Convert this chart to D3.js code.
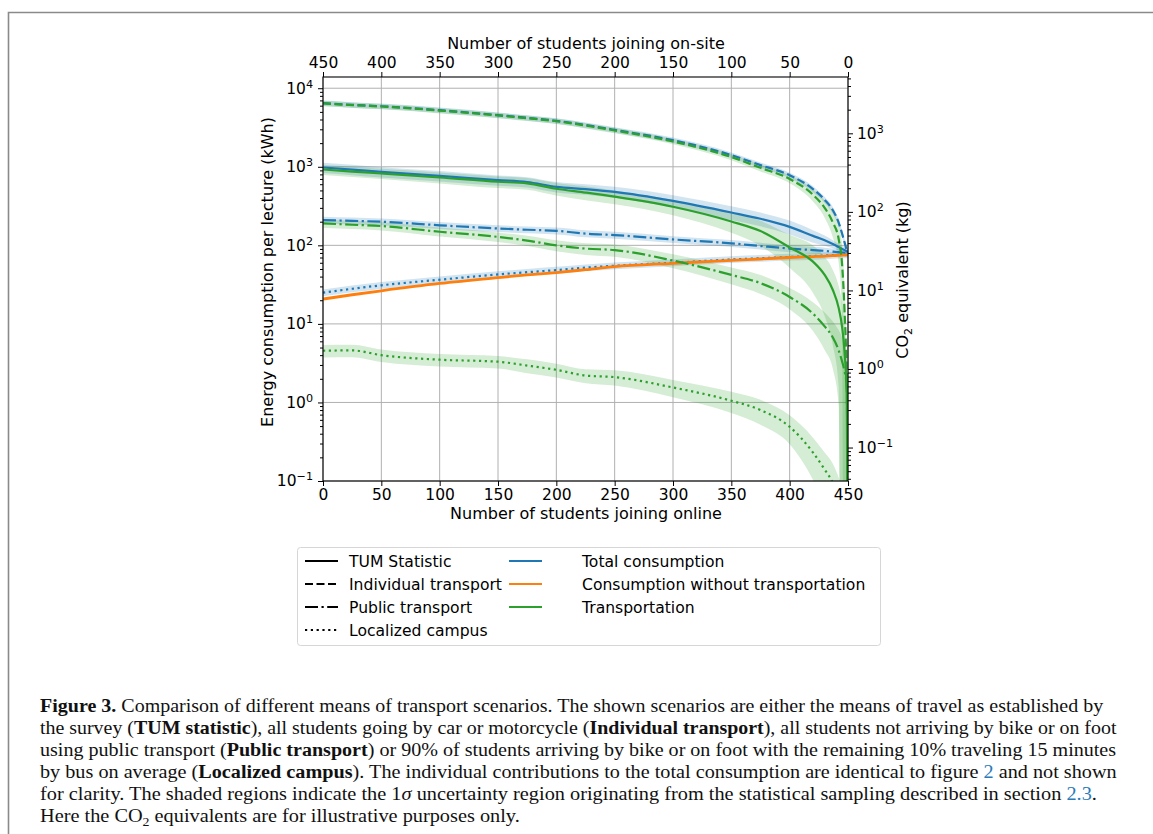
<!DOCTYPE html>
<html>
<head>
<meta charset="utf-8">
<script src="https://cdn.jsdelivr.net/npm/d3@7"></script>
<style>
  body { margin: 0; background: #fff; }
  svg { display: block; font-family: 'DejaVu Sans', sans-serif; }
  .caption { font-family: 'Liberation Serif', serif; white-space: pre; }
</style>
</head>
<body>
<svg id="chart" width="1153" height="834"></svg>
<script>
// students joining online (bottom axis), on-site = 450 - online
const onlineStudents = [0, 25, 50, 100, 150, 175, 200, 225, 250, 300, 350, 375, 400, 420, 430, 437, 442, 445, 447, 449, 450]

// energy per lecture (kWh)
const tumTotal = [980, 920, 860, 767, 676, 640, 555, 520, 480, 368, 262, 218, 172, 132, 116, 104, 95, 90, 87, 84, 82]
const tumTransport = [925, 870, 822, 731, 645, 615, 525, 470, 417, 310, 201, 152, 94, 62, 42, 27, 16, 9, 4.5, 1.2, 0.001]
const indivTotal = [6450, 6150, 5900, 5250, 4550, 4200, 3850, 3400, 2950, 2180, 1410, 1050, 780, 520, 380, 280, 195, 140, 110, 86, 79]
const indivTransport = [6400, 6100, 5850, 5200, 4500, 4150, 3800, 3350, 2900, 2100, 1330, 970, 700, 440, 300, 195, 120, 55, 15, 1.5, 0.001]
const publicTotal = [210, 205, 200, 180, 164, 158, 153, 141, 135, 119, 106, 98, 91, 87, 85, 83, 82, 81, 80.5, 80, 80]
const publicTransport = [190, 183, 176, 149, 128, 115, 100, 91, 87, 64, 42, 33, 22, 13.5, 9.3, 6.7, 4.6, 3.3, 2.5, 1.6, 0.001]
const noTransport = [20.7, 23.5, 26.4, 32.7, 38.8, 42, 45, 49, 53.5, 59, 64.5, 67, 70, 72, 73, 74, 74.5, 75, 75, 75.5, 75.5]
const localTotal = [25, 28, 31, 36.5, 42.6, 45.5, 48.4, 52, 55, 60, 66, 68.5, 71, 73, 74, 75, 75.5, 75.5, 76, 76, 76]
const localTransport = [4.55, 4.6, 4.0, 3.5, 3.3, 2.95, 2.6, 2.2, 2.1, 1.55, 1.05, 0.8, 0.49, 0.23, 0.14, 0.095, 0.06, 0.04, 0.025, 0.01, 0.001]

// relative 1 sigma width of the shaded regions
const sigTumTotal = [0.15, 0.15, 0.15, 0.15, 0.15, 0.15, 0.15, 0.15, 0.16, 0.18, 0.2, 0.2, 0.2, 0.18, 0.15, 0.12, 0.1, 0.1, 0.1, 0.1, 0.1]
const sigTumTransport = [0.15, 0.15, 0.15, 0.16, 0.17, 0.17, 0.18, 0.2, 0.2, 0.22, 0.28, 0.35, 0.45, 0.6, 0.7, 0.8, 0.9, 1, 1, 1, 1]
const sigIndivTotal = [0.08, 0.08, 0.08, 0.08, 0.08, 0.08, 0.08, 0.08, 0.08, 0.08, 0.08, 0.08, 0.08, 0.09, 0.09, 0.1, 0.1, 0.1, 0.1, 0.1, 0.1]
const sigIndivTransport = [0.08, 0.08, 0.08, 0.08, 0.08, 0.08, 0.08, 0.08, 0.08, 0.08, 0.09, 0.1, 0.12, 0.18, 0.25, 0.35, 0.5, 0.8, 1, 1, 1]
const sigPublicTotal = [0.1, 0.1, 0.1, 0.1, 0.1, 0.1, 0.1, 0.1, 0.1, 0.1, 0.1, 0.1, 0.1, 0.1, 0.1, 0.1, 0.1, 0.1, 0.1, 0.1, 0.1]
const sigPublicTransport = [0.12, 0.12, 0.12, 0.13, 0.14, 0.15, 0.16, 0.17, 0.18, 0.2, 0.24, 0.27, 0.3, 0.4, 0.5, 0.6, 0.8, 1, 1, 1, 1]
const sigLocalTotal = [0.1, 0.1, 0.1, 0.1, 0.1, 0.1, 0.1, 0.1, 0.1, 0.1, 0.1, 0.1, 0.1, 0.1, 0.1, 0.1, 0.1, 0.1, 0.1, 0.1, 0.1]
const sigLocalTransport = [0.18, 0.18, 0.18, 0.18, 0.18, 0.2, 0.2, 0.2, 0.22, 0.25, 0.3, 0.35, 0.4, 0.55, 0.65, 0.75, 0.85, 1, 1, 1, 1]

// axis ticks
const xTicks = [0, 50, 100, 150, 200, 250, 300, 350, 400, 450]
const yTicks = [0.1, 1, 10, 100, 1000, 10000]
const co2Ticks = [0.1, 1, 10, 100, 1000]
const yLimits = [0.1, 13900]
const co2PerKWh = 0.375 // kg CO2 per kWh, from the twin axis

const legendStyles = ['TUM Statistic', 'Individual transport', 'Public transport', 'Localized campus']
const legendColors = ['Total consumption', 'Consumption without transportation', 'Transportation']

const blue = '#1f77b4', orange = '#ff7f0e', green = '#2ca02c'
const dashes = { solid: null, dashed: '8,3.5', dashdot: '13,3.5,2.2,3.5', dotted: '2.2,3.6' }

const svg = d3.select('#chart')
const plot = { left: 323, right: 848, top: 77, bottom: 481 }
const labelSize = 16

// frame line round the figure
svg.append('path')
  .attr('d', 'M8.5,834 V12.5 H1153')
  .attr('fill', 'none')
  .attr('stroke', '#8a8a8a')
  .attr('stroke-width', 1.6)

const x = d3.scaleLinear().domain([0, 450]).range([plot.left, plot.right])
const xTop = d3.scaleLinear().domain([450, 0]).range([plot.left, plot.right])
const y = d3.scaleLog().domain(yLimits).range([plot.bottom, plot.top])
const yCo2 = d3.scaleLog().domain(yLimits.map((v) => v * co2PerKWh)).range([plot.bottom, plot.top])

function minorTicks(scale) {
  const [lo, hi] = scale.domain()
  const out = []
  for (let k = -3; k <= 5; k++) {
    for (let m = 2; m <= 9; m++) {
      const v = m * Math.pow(10, k)
      if (v >= lo && v <= hi) out.push(v)
    }
  }
  return out
}

function powerLabel(sel) {
  sel.each(function (d) {
    const t = d3.select(this)
    const e = Math.round(Math.log10(d))
    t.text('10')
    t.append('tspan')
      .attr('dy', '-0.55em')
      .attr('font-size', '0.72em')
      .text(e < 0 ? '\u2212' + -e : e)
  })
}

// grid
const grid = svg.append('g').attr('stroke', '#b0b0b0').attr('stroke-width', 1)
grid.selectAll('.gx').data(xTicks).enter().append('line')
  .attr('x1', (d) => x(d)).attr('x2', (d) => x(d))
  .attr('y1', plot.top).attr('y2', plot.bottom)
grid.selectAll('.gy').data(yTicks).enter().append('line')
  .attr('x1', plot.left).attr('x2', plot.right)
  .attr('y1', (d) => y(d)).attr('y2', (d) => y(d))

svg.append('clipPath').attr('id', 'clip')
  .append('rect')
  .attr('x', plot.left).attr('y', plot.top)
  .attr('width', plot.right - plot.left).attr('height', plot.bottom - plot.top)

const series = [
  { values: tumTotal, sigma: sigTumTotal, color: blue, dash: dashes.solid },
  { values: indivTotal, sigma: sigIndivTotal, color: blue, dash: dashes.dashed },
  { values: publicTotal, sigma: sigPublicTotal, color: blue, dash: dashes.dashdot },
  { values: localTotal, sigma: sigLocalTotal, color: blue, dash: dashes.dotted },
  { values: noTransport, sigma: null, color: orange, dash: dashes.solid, width: 2.8 },
  { values: tumTransport, sigma: sigTumTransport, color: green, dash: dashes.solid },
  { values: indivTransport, sigma: sigIndivTransport, color: green, dash: dashes.dashed },
  { values: publicTransport, sigma: sigPublicTransport, color: green, dash: dashes.dashdot },
  { values: localTransport, sigma: sigLocalTransport, color: green, dash: dashes.dotted },
]

const inner = svg.append('g').attr('clip-path', 'url(#clip)')

const band = d3.area()
  .x((d) => x(d.n))
  .y0((d) => y(Math.max(d.v * (1 - d.s), 1e-6)))
  .y1((d) => y(d.v * (1 + d.s)))
  .curve(d3.curveMonotoneX)

const line = d3.line()
  .x((d) => x(d.n))
  .y((d) => y(d.v))
  .curve(d3.curveMonotoneX)

series.filter((s) => s.sigma).forEach((s) => {
  const pts = onlineStudents.map((n, i) => ({ n: n, v: s.values[i], s: s.sigma[i] }))
  inner.append('path')
    .attr('d', band(pts))
    .attr('fill', s.color)
    .attr('fill-opacity', 0.2)
})

series.forEach((s) => {
  const pts = onlineStudents.map((n, i) => ({ n: n, v: s.values[i] }))
  inner.append('path')
    .attr('d', line(pts))
    .attr('fill', 'none')
    .attr('stroke', s.color)
    .attr('stroke-width', s.width || 2.2)
    .attr('stroke-dasharray', s.dash)
})

// axes
const tickFont = (g) => g.selectAll('text').attr('font-size', 15.5).attr('fill', '#000').attr('font-family', 'DejaVu Sans')

svg.append('g')
  .attr('transform', `translate(0,${plot.bottom})`)
  .call(d3.axisBottom(x).tickValues(xTicks).tickSize(5).tickPadding(3).tickFormat(d3.format('d')))
  .call(tickFont)

svg.append('g')
  .attr('transform', `translate(0,${plot.top})`)
  .call(d3.axisTop(xTop).tickValues(xTicks).tickSize(5).tickPadding(4).tickFormat(d3.format('d')))
  .call(tickFont)

svg.append('g')
  .attr('transform', `translate(${plot.left},0)`)
  .call(d3.axisLeft(y).tickValues(minorTicks(y)).tickSize(3).tickFormat(''))
svg.append('g')
  .attr('transform', `translate(${plot.left},0)`)
  .call(d3.axisLeft(y).tickValues(yTicks).tickSize(5).tickPadding(5))
  .call(tickFont)
  .call((g) => g.selectAll('.tick text').call(powerLabel))

svg.append('g')
  .attr('transform', `translate(${plot.right},0)`)
  .call(d3.axisRight(yCo2).tickValues(minorTicks(yCo2)).tickSize(3).tickFormat(''))
svg.append('g')
  .attr('transform', `translate(${plot.right},0)`)
  .call(d3.axisRight(yCo2).tickValues(co2Ticks).tickSize(5).tickPadding(4))
  .call(tickFont)
  .call((g) => g.selectAll('.tick text').call(powerLabel))

svg.selectAll('.domain').remove()
svg.append('rect')
  .attr('x', plot.left).attr('y', plot.top)
  .attr('width', plot.right - plot.left).attr('height', plot.bottom - plot.top)
  .attr('fill', 'none').attr('stroke', '#000').attr('stroke-width', 1.1)

// axis titles
svg.append('text')
  .attr('x', 586).attr('y', 49)
  .attr('text-anchor', 'middle').attr('font-size', labelSize)
  .text('Number of students joining on-site')
svg.append('text')
  .attr('x', 586).attr('y', 519)
  .attr('text-anchor', 'middle').attr('font-size', labelSize)
  .text('Number of students joining online')
svg.append('text')
  .attr('transform', 'translate(273,272) rotate(-90)')
  .attr('text-anchor', 'middle').attr('font-size', labelSize)
  .text('Energy consumption per lecture (kWh)')
const co2Label = svg.append('text')
  .attr('transform', 'translate(908,280) rotate(-90)')
  .attr('text-anchor', 'middle').attr('font-size', labelSize)
co2Label.append('tspan').text('CO')
co2Label.append('tspan').attr('font-size', 11).attr('dy', 4).text('2')
co2Label.append('tspan').attr('dy', -4).text(' equivalent (kg)')

// legend
const legend = svg.append('g')
legend.append('rect')
  .attr('x', 297.5).attr('y', 547.5).attr('width', 583).attr('height', 98)
  .attr('rx', 3).attr('fill', '#fff').attr('stroke', '#d6d6d6')

const rowY = (i) => 561 + i * 23
const styleDashes = [dashes.solid, dashes.dashed, dashes.dashdot, dashes.dotted]
legendStyles.forEach((label, i) => {
  legend.append('line')
    .attr('x1', 305).attr('x2', 338).attr('y1', rowY(i)).attr('y2', rowY(i))
    .attr('stroke', '#000').attr('stroke-width', 2.2)
    .attr('stroke-dasharray', styleDashes[i])
  legend.append('text')
    .attr('x', 349).attr('y', rowY(i) + 5.5).attr('font-size', 15.6)
    .text(label)
})
const colorList = [blue, orange, green]
legendColors.forEach((label, i) => {
  legend.append('line')
    .attr('x1', 509).attr('x2', 542).attr('y1', rowY(i)).attr('y2', rowY(i))
    .attr('stroke', colorList[i]).attr('stroke-width', 2.2)
  legend.append('text')
    .attr('x', 582).attr('y', rowY(i) + 5.5).attr('font-size', 15.6)
    .text(label)
})

// caption, each line squeezed to the width it has in the page
const link = '#2a7ab8'
const captionLines = [
  { w: 1064, parts: [['Figure 3.', 'b'], [' Comparison of different means of transport scenarios. The shown scenarios are either the means of travel as established by']] },
  { w: 1077, parts: [['the survey ('], ['TUM statistic', 'b'], ['), all students going by car or motorcycle ('], ['Individual transport', 'b'], ['), all students not arriving by bike or on foot']] },
  { w: 1077, parts: [['using public transport ('], ['Public transport', 'b'], [') or 90% of students arriving by bike or on foot with the remaining 10% traveling 15 minutes']] },
  { w: 1077, parts: [['by bus on average ('], ['Localized campus', 'b'], ['). The individual contributions to the total consumption are identical to figure '], ['2', 'a'], [' and not shown']] },
  { w: 1058, parts: [['for clarity. The shaded regions indicate the 1'], ['\u03c3', 'i'], [' uncertainty region originating from the statistical sampling described in section '], ['2.3', 'a'], ['.']] },
  { w: 480, parts: [['Here the CO'], ['2', 's'], [' equivalents are for illustrative purposes only.']] },
]

captionLines.forEach((ln, i) => {
  const t = svg.append('text')
    .attr('class', 'caption')
    .attr('font-size', 19)
    .attr('fill', '#111')
  let shifted = false
  ln.parts.forEach(([txt, st]) => {
    const sp = t.append('tspan').text(txt)
    if (st === 'b') sp.attr('font-weight', 'bold')
    if (st === 'i') sp.attr('font-style', 'italic')
    if (st === 'a') sp.attr('fill', link)
    if (st === 's') { sp.attr('font-size', 13).attr('dy', 4); shifted = true }
    else if (shifted) { sp.attr('dy', -4); shifted = false }
  })
  const wNow = t.node().getComputedTextLength()
  t.attr('transform', `translate(40,${712 + i * 22}) scale(${ln.w / wNow},1)`)
})
</script>
</body>
</html>
